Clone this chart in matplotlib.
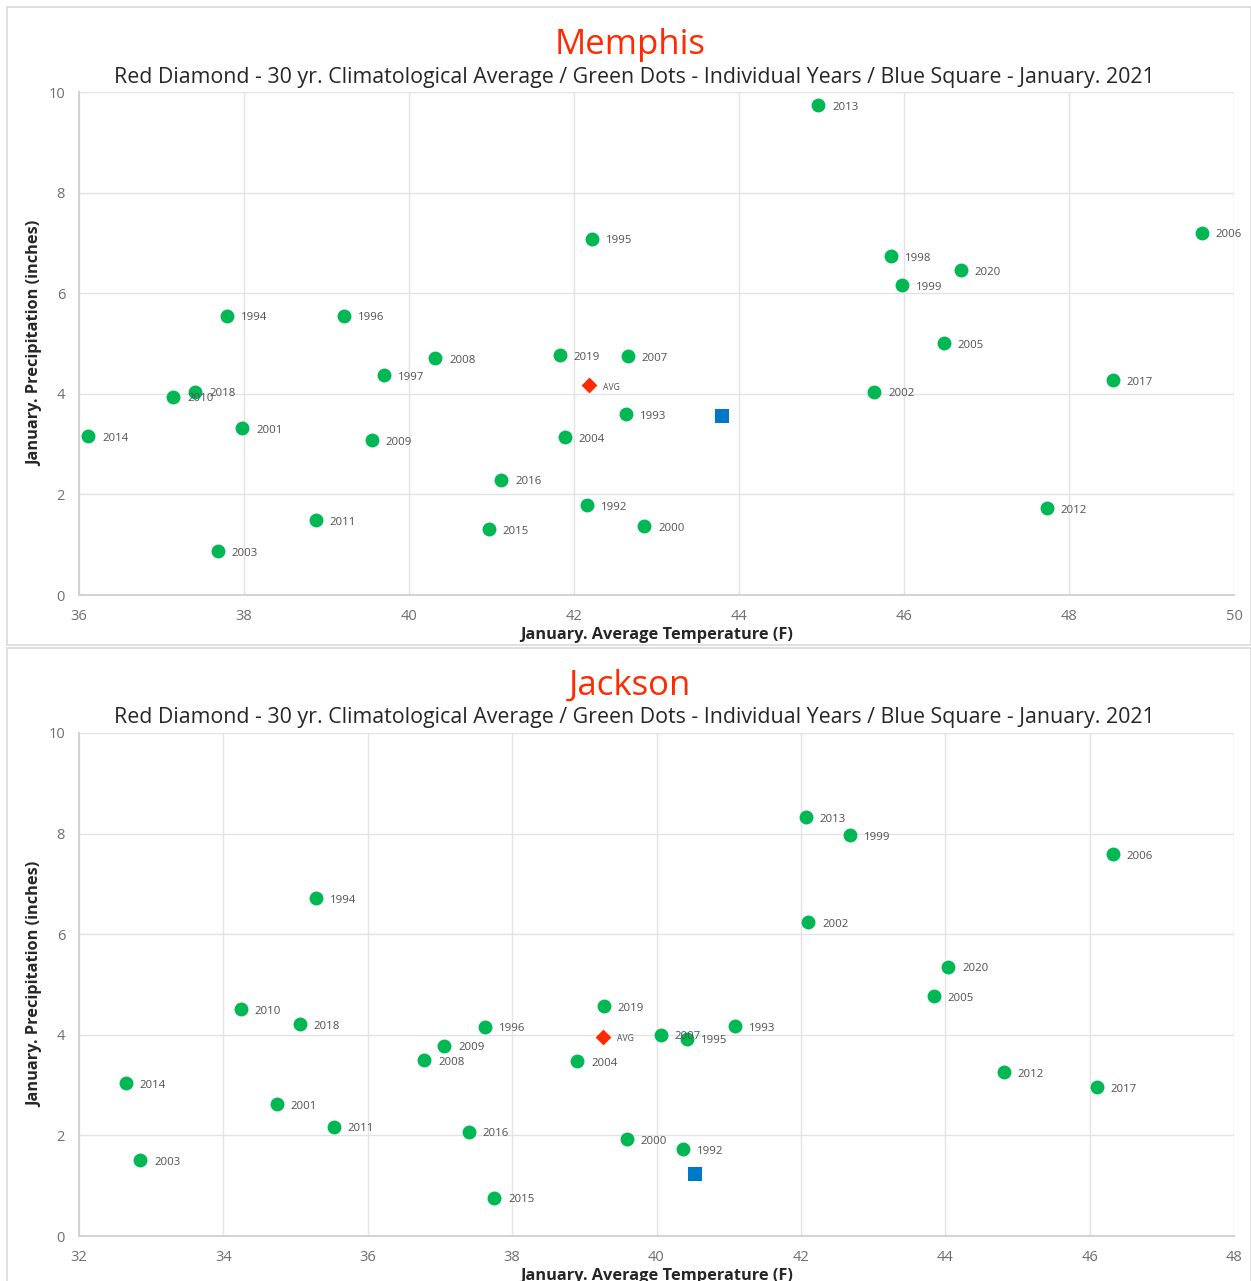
import matplotlib
matplotlib.use("Agg")
import matplotlib.pyplot as plt
from matplotlib.patches import Rectangle

plt.rcParams['font.family'] = ['Open Sans', 'DejaVu Sans']

# ---------------- data ----------------
subtitle = "Red Diamond - 30 yr. Climatological Average / Green Dots - Individual Years / Blue Square - January. 2021"

mem_years = [1992, 1993, 1994, 1995, 1996, 1997, 1998, 1999, 2000, 2001,
             2002, 2003, 2004, 2005, 2006, 2007, 2008, 2009, 2010, 2011,
             2012, 2013, 2014, 2015, 2016, 2017, 2018, 2019, 2020]
mem_temp = [42.16, 42.63, 37.79, 42.22, 39.21, 39.70, 45.84, 45.98, 42.85, 37.98,
            45.64, 37.68, 41.89, 46.48, 49.61, 42.65, 40.32, 39.55, 37.14, 38.87,
            47.73, 44.96, 36.11, 40.97, 41.12, 48.53, 37.41, 41.83, 46.69]
mem_prcp = [1.79, 3.60, 5.55, 7.08, 5.55, 4.37, 6.74, 6.16, 1.37, 3.32,
            4.04, 0.87, 3.14, 5.01, 7.20, 4.75, 4.71, 3.08, 3.94, 1.49,
            1.73, 9.74, 3.16, 1.31, 2.29, 4.27, 4.04, 4.77, 6.46]
mem_avg = (42.18, 4.17)
mem_2021 = (43.79, 3.56)

jac_years = [1992, 1993, 1994, 1995, 1996, 1999, 2000, 2001, 2002, 2003,
             2004, 2005, 2006, 2007, 2008, 2009, 2010, 2011, 2012, 2013,
             2014, 2015, 2016, 2017, 2018, 2019, 2020]
jac_temp = [40.37, 41.09, 35.28, 40.42, 37.62, 42.68, 39.59, 34.74, 42.10, 32.85,
            38.90, 43.84, 46.32, 40.06, 36.78, 37.06, 34.24, 35.53, 44.81, 42.07,
            32.65, 37.75, 37.40, 46.10, 35.06, 39.27, 44.04]
jac_prcp = [1.73, 4.17, 6.72, 3.92, 4.16, 7.97, 1.93, 2.62, 6.24, 1.51,
            3.48, 4.77, 7.59, 4.00, 3.50, 3.78, 4.51, 2.17, 3.26, 8.33,
            3.04, 0.76, 2.07, 2.96, 4.21, 4.57, 5.35]
jac_avg = (39.26, 3.96)
jac_2021 = (40.53, 1.23)

mem_xticks = [36, 38, 40, 42, 44, 46, 48, 50]
jac_xticks = [32, 34, 36, 38, 40, 42, 44, 46, 48]
yticks = [0, 2, 4, 6, 8, 10]

GREEN = "#00B853"
RED = "#FF2A00"
BLUE = "#0078C8"
GRID = "#E3E3E3"
TICK = "#6E6E6E"

W, H = 1251, 1281
fig = plt.figure(figsize=(W / 100, H / 100), dpi=100)


def fy(py):
    return 1 - py / H


# panel borders
for (y0, y1) in [(7, 645), (648, 1290)]:
    fig.patches.append(Rectangle((7 / W, fy(y1)), (W - 7) / W, (y1 - y0) / H,
                                 transform=fig.transFigure, fill=False,
                                 edgecolor="#D9D9D9", linewidth=1.2))


def panel(top_px, city, years, temp, prcp, avg, cur, xticks):
    left, right = 79 / W, 1234 / W
    bot_px = top_px + 503
    ax = fig.add_axes([left, fy(bot_px), right - left, 503 / H])
    ax.set_xlim(xticks[0], xticks[-1])
    ax.set_ylim(0, 10)
    ax.set_xticks(xticks)
    ax.set_yticks(yticks)
    ax.grid(True, color=GRID, linewidth=1.0)
    ax.set_axisbelow(True)
    for s in ["top", "right"]:
        ax.spines[s].set_visible(False)
    for s in ["left", "bottom"]:
        ax.spines[s].set_color("#D0D0D0")
        ax.spines[s].set_linewidth(1.3)
    ax.tick_params(length=0, labelsize=10.5, labelcolor=TICK, pad=10)

    ax.scatter(temp, prcp, s=100, color=GREEN, zorder=3, linewidths=0)
    for yr, t, p in zip(years, temp, prcp):
        ax.annotate(str(yr), (t, p), xytext=(10, -1.5), textcoords="offset points",
                    ha="left", va="center", fontsize=8.2, color="#505050", zorder=4)
    ax.scatter([avg[0]], [avg[1]], s=65, marker="D", color=RED, zorder=4, linewidths=0)
    ax.annotate("AVG", avg, xytext=(10, -1.5), textcoords="offset points",
                ha="left", va="center", fontsize=6.2, color="#505050", zorder=4)
    ax.scatter([cur[0]], [cur[1]], s=115, marker="s", color=BLUE, zorder=4, linewidths=0)

    ax.set_xlabel("January. Average Temperature (F)", fontsize=11.8, fontweight="bold",
                  color="#262626", labelpad=2)
    ax.set_ylabel("January. Precipitation (inches)", fontsize=11.8, fontweight="bold",
                  color="#262626", labelpad=4)

    fig.text(630 / W, fy(top_px - 47), city, ha="center", va="center",
             fontsize=25, color=RED)
    fig.text(634 / W, fy(top_px - 15), subtitle, ha="center", va="center",
             fontsize=15.4, color="#262626")
    return ax


panel(92, "Memphis", mem_years, mem_temp, mem_prcp, mem_avg, mem_2021, mem_xticks)
panel(733, "Jackson", jac_years, jac_temp, jac_prcp, jac_avg, jac_2021, jac_xticks)

fig.savefig("out.png", dpi=100, facecolor="white")
